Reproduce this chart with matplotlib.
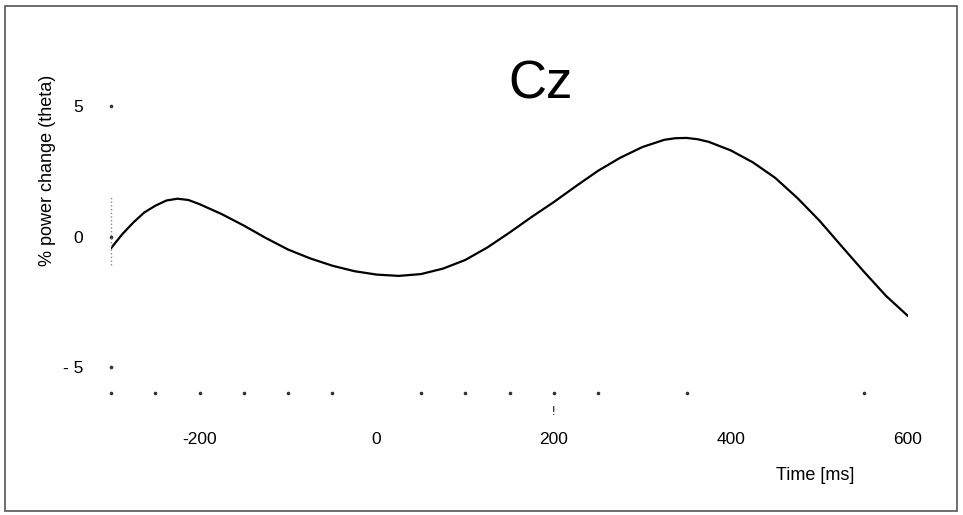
import numpy as np
import matplotlib
matplotlib.use("Agg")
import matplotlib.pyplot as plt
from matplotlib.patches import Rectangle

plt.rcParams['font.family'] = ['Liberation Sans', 'DejaVu Sans']

### Curve (time in ms, % power change)
time_ms = [-300, -287.5, -275, -262.5, -250, -237.5, -225, -212.5, -200, -175, -150, -125,
           -100, -75, -50, -25, 0, 25, 50, 75, 100, 125, 150, 175, 200, 225, 250, 275,
           300, 325, 337.5, 350, 362.5, 375, 400, 425, 450, 475, 500, 525, 550, 575, 600]
power = [-0.45, 0.08, 0.53, 0.92, 1.18, 1.38, 1.45, 1.40, 1.24, 0.86, 0.42, -0.06,
         -0.50, -0.84, -1.12, -1.33, -1.46, -1.51, -1.44, -1.23, -0.90, -0.42, 0.15, 0.75,
         1.32, 1.93, 2.52, 3.02, 3.43, 3.71, 3.77, 3.78, 3.73, 3.63, 3.30, 2.84, 2.25,
         1.48, 0.61, -0.37, -1.34, -2.27, -3.05]

### Axis dots as they survive on the scan
x_dots = [-300, -250, -200, -150, -100, -50, 50, 100, 150, 200, 250, 350, 550]
y_dots = [5, 0, -5]
x_ticks = [-200, 0, 200, 400, 600]
y_ticks = [5, 0, -5]
y_ticklabels = ['5', '0', '- 5']

fig = plt.figure(figsize=(9.63, 5.15), dpi=100)
W, H = 963, 515

# scan frame
fig.patches.append(Rectangle((5 / W, 4 / H), 952 / W, 505 / H, transform=fig.transFigure,
                             fill=False, edgecolor='#555555', lw=1.2))

ax = fig.add_axes([111 / W, 1 - 393 / H, 797 / W, 326 / H])
ax.set_xlim(-300, 600)
ax.set_ylim(-6, 6.5)
for s in ax.spines.values():
    s.set_visible(False)

ax.plot(time_ms, power, color='black', lw=1.6, solid_capstyle='round',
        solid_joinstyle='round')

# dotted axes
ax.plot(x_dots, [-6] * len(x_dots), 'o', ms=1.6, color='#333333', clip_on=False)
ax.plot([-300] * len(y_dots), y_dots, 'o', ms=1.6, color='#333333', clip_on=False)
ax.plot([-300, -300], [-1.1, 1.5], ':', lw=1.0, color='#888888', clip_on=False)
ax.text(200, -6.72, '!', ha='center', va='center', fontsize=9)

ax.set_xticks(x_ticks)
ax.set_xticklabels([str(t) for t in x_ticks], fontsize=12.5)
ax.set_yticks(y_ticks)
ax.set_yticklabels(y_ticklabels, fontsize=12.5)
ax.tick_params(axis='x', length=0, pad=28)
ax.tick_params(axis='y', length=0, pad=20)

fig.text(47 / W, 1 - 170 / H, '% power change (theta)', rotation=90,
         ha='center', va='center', fontsize=13)
fig.text(815 / W, 1 - 475 / H, 'Time [ms]', ha='center', va='center', fontsize=13)
fig.text(541 / W, 1 - 84 / H, 'Cz', ha='center', va='center', fontsize=38)

fig.savefig('out.png', dpi=100)
